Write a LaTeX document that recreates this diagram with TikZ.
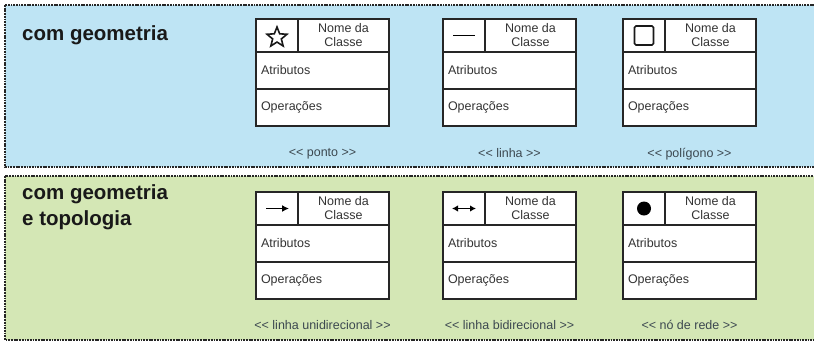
\documentclass[tikz,border=0pt]{standalone}
\usepackage{fontspec}
\setmainfont{Liberation Sans}
\usepackage{tikz}
\usetikzlibrary{positioning, shapes.geometric, arrows.meta}

\definecolor{fundoazul}{RGB}{190,228,244}
\definecolor{fundoverde}{RGB}{212,231,181}
\definecolor{cinzarotulo}{RGB}{60,72,80}

\tikzset{
	painel/.style={draw=black!85, line width=1.3pt, dash pattern=on 1.8pt off 0.9pt},
	titulo/.style={font=\fontsize{20.5}{26}\selectfont\bfseries, text=black!90, inner sep=0pt, align=left},
	icone/.style={draw=black!85, line width=1.4pt, fill=white, outer sep=0pt, inner sep=0pt, minimum width=42pt, minimum height=33pt},
	nome/.style={draw=black!85, line width=1.4pt, fill=white, outer sep=0pt, inner sep=0pt, minimum width=91pt, minimum height=33pt, align=center, font=\fontsize{12.5}{14}\selectfont, text=black!80},
	campo/.style={draw=black!85, line width=1.4pt, fill=white, outer sep=0pt, inner xsep=5pt, inner ysep=0pt, minimum width=133pt, minimum height=37pt, text width=123pt, align=left, font=\fontsize{12.5}{14}\selectfont, text=black!80},
	rotulo/.style={inner sep=0pt, font=\fontsize{12.5}{14}\selectfont, text=cinzarotulo}
}

\begin{document}
\begin{tikzpicture}[x=1pt, y=-1pt]
	\clip (0,0) rectangle (814,341);
	\useasboundingbox (0,0) rectangle (814,341);
	
	% Panels
	\fill[fundoazul] (5,5) rectangle (820,167);
	\draw[painel] (5,5) rectangle (820,167);
	\fill[fundoverde] (5,176) rectangle (820,340);
	\draw[painel] (5,176) rectangle (820,340);
	
	\node[titulo, anchor=base west] (geo) at (22,40) {com geometria};
	\node[titulo, anchor=base west] (topo) at (22,225) {com geometria\\e topologia};
	
	% Classes com geometria
	\node[icone, anchor=north west] (ponto-ic) at (256,19) {};
	\node[nome, right=0pt of ponto-ic] (ponto-nm) {Nome da\\Classe};
	\node[campo, anchor=north west] (ponto-at) at (ponto-ic.south west) {Atributos};
	\node[campo, below=0pt of ponto-at] (ponto-op) {Operações};
	\node[rotulo, below=22pt of ponto-op] (ponto-rt) {<\kern0pt< ponto >\kern0pt>};
	
	\node[icone, anchor=north west] (linha-ic) at (443,19) {};
	\node[nome, right=0pt of linha-ic] (linha-nm) {Nome da\\Classe};
	\node[campo, anchor=north west] (linha-at) at (linha-ic.south west) {Atributos};
	\node[campo, below=0pt of linha-at] (linha-op) {Operações};
	\node[rotulo, below=22pt of linha-op] (linha-rt) {<\kern0pt< linha >\kern0pt>};
	
	\node[icone, anchor=north west] (poli-ic) at (623,19) {};
	\node[nome, right=0pt of poli-ic] (poli-nm) {Nome da\\Classe};
	\node[campo, anchor=north west] (poli-at) at (poli-ic.south west) {Atributos};
	\node[campo, below=0pt of poli-at] (poli-op) {Operações};
	\node[rotulo, below=22pt of poli-op] (poli-rt) {<\kern0pt< polígono >\kern0pt>};
	
	% Classes com geometria e topologia
	\node[icone, anchor=north west] (uni-ic) at (256,192) {};
	\node[nome, right=0pt of uni-ic] (uni-nm) {Nome da\\Classe};
	\node[campo, anchor=north west] (uni-at) at (uni-ic.south west) {Atributos};
	\node[campo, below=0pt of uni-at] (uni-op) {Operações};
	\node[rotulo, below=21pt of uni-op] (uni-rt) {<\kern0pt< linha unidirecional >\kern0pt>};
	
	\node[icone, anchor=north west] (bi-ic) at (443,192) {};
	\node[nome, right=0pt of bi-ic] (bi-nm) {Nome da\\Classe};
	\node[campo, anchor=north west] (bi-at) at (bi-ic.south west) {Atributos};
	\node[campo, below=0pt of bi-at] (bi-op) {Operações};
	\node[rotulo, below=21pt of bi-op] (bi-rt) {<\kern0pt< linha bidirecional >\kern0pt>};
	
	\node[icone, anchor=north west] (rede-ic) at (623,192) {};
	\node[nome, right=0pt of rede-ic] (rede-nm) {Nome da\\Classe};
	\node[campo, anchor=north west] (rede-at) at (rede-ic.south west) {Atributos};
	\node[campo, below=0pt of rede-at] (rede-op) {Operações};
	\node[rotulo, below=21pt of rede-op] (rede-rt) {<\kern0pt< nó de rede >\kern0pt>};
	
	% Icons
	\node[star, star points=5, star point ratio=2.3, draw=black!90, line width=1.6pt, minimum size=21pt, inner sep=0pt, yshift=-2pt] (estrela) at (ponto-ic) {};
	\draw[line width=1.6pt] ([xshift=-11pt]linha-ic.center) -- ([xshift=11pt]linha-ic.center);
	\node[draw=black!90, line width=1.6pt, minimum width=19pt, minimum height=19pt, inner sep=0pt, rounded corners=1.5pt] (quadrado) at (poli-ic) {};
	\draw[line width=1.5pt, -{Latex[length=7pt, width=7pt]}] ([xshift=-11pt]uni-ic.center) -- ([xshift=12pt]uni-ic.center);
	\draw[line width=1.5pt, {Latex[length=6pt, width=6.5pt]}-{Latex[length=6pt, width=6.5pt]}] ([xshift=-12pt]bi-ic.center) -- ([xshift=12pt]bi-ic.center);
	\node[circle, fill=black, minimum size=14pt, inner sep=0pt] (no) at (rede-ic) {};
\end{tikzpicture}
\end{document}
